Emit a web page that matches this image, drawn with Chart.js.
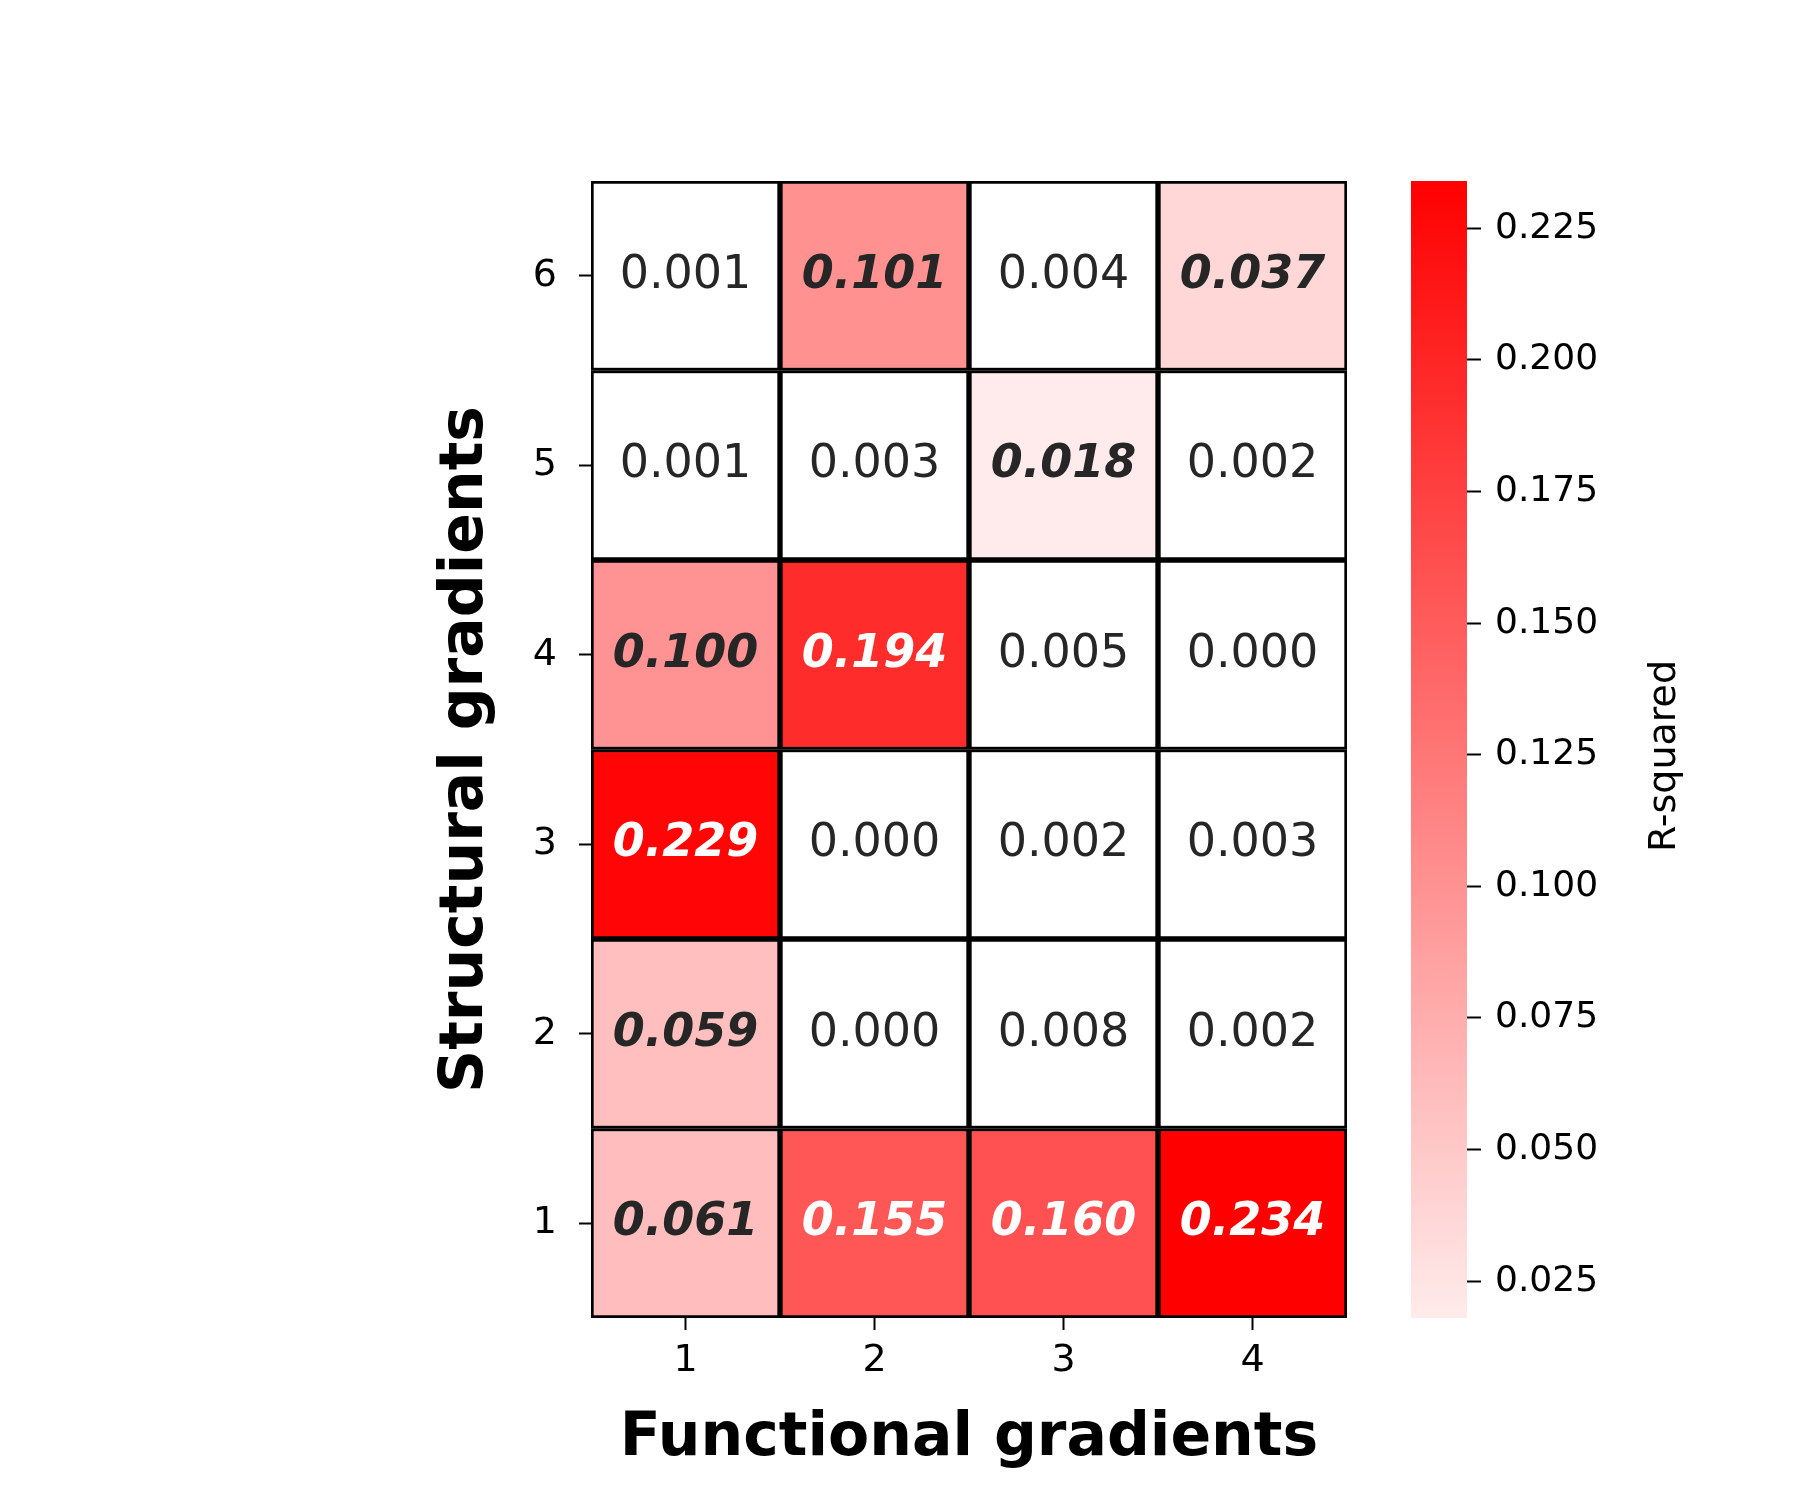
<!DOCTYPE html>
<html>
<head>
<meta charset="utf-8">
<script src="https://cdn.jsdelivr.net/npm/chart.js@4"></script>
<style>
  body { margin: 0; background: #fff; }
  #wrap { position: relative; width: 1800px; height: 1500px; }
  .box { position: absolute; top: 0; height: 1500px; }
</style>
</head>
<body>
<div id="wrap">
  <div class="box" style="left:0;width:1400px"><canvas id="heat"></canvas></div>
  <div class="box" style="left:1400px;width:400px"><canvas id="bar"></canvas></div>
</div>
<script>
// heatmap of R-squared, functional (x) vs structural (y) gradients

const functional = ['1', '2', '3', '4'];
const structural = ['1', '2', '3', '4', '5', '6'];

// one row per structural gradient, from 1 (bottom) to 6 (top)
const rsq = [
    [0.061, 0.155, 0.160, 0.234],
    [0.059, 0.000, 0.008, 0.002],
    [0.229, 0.000, 0.002, 0.003],
    [0.100, 0.194, 0.005, 0.000],
    [0.001, 0.003, 0.018, 0.002],
    [0.001, 0.101, 0.004, 0.037]
];
// significant cells are written bold italic
const signif = [
    [1, 1, 1, 1],
    [1, 0, 0, 0],
    [1, 0, 0, 0],
    [1, 1, 0, 0],
    [0, 0, 1, 0],
    [0, 1, 0, 1]
];
const cbTicks = [0.025, 0.05, 0.075, 0.1, 0.125, 0.15, 0.175, 0.2, 0.225];
const vmin = 0.018, vmax = 0.234;

Chart.defaults.font.family = 'DejaVu Sans';
Chart.defaults.color = '#000';

function cellColor(v) {
    if (v < vmin) return '#fff';
    var t = Math.min(v / vmax, 1);
    var g = Math.round(255 * (1 - t));
    return 'rgb(255,' + g + ',' + g + ')';
}

var datasets = [];
for (var r = 0; r < rsq.length; r++) {
    datasets.push({
        label: structural[r],
        data: functional.map(() => 1),
        backgroundColor: rsq[r].map(cellColor),
        borderColor: '#000',
        borderWidth: 3,
        borderSkipped: false,
        barPercentage: 1,
        categoryPercentage: 1
    });
}

const cellText = {
    id: 'cellText',
    afterDatasetsDraw(chart) {
        const c = chart.ctx;
        c.save();
        c.textAlign = 'center';
        c.textBaseline = 'middle';
        chart.data.datasets.forEach((ds, r) => {
            chart.getDatasetMeta(r).data.forEach((bar, k) => {
                var v = rsq[r][k];
                var b = signif[r][k];
                c.font = (b ? 'italic bold ' : '') + '46px DejaVu Sans';
                c.fillStyle = v > 0.15 ? '#fff' : '#262626';
                var y = (bar.y + bar.base) / 2;
                c.fillText(v.toFixed(3), bar.x, y);
            });
        });
        c.restore();
    }
};

const cbTitle = {
    id: 'cbTitle',
    afterDraw(chart) {
        const c = chart.ctx;
        c.save();
        c.translate(265, 756);
        c.rotate(-Math.PI / 2);
        c.textAlign = 'center';
        c.textBaseline = 'middle';
        c.fillStyle = '#000';
        c.font = '38px DejaVu Sans';
        c.fillText('R-squared', 0, 0);
        c.restore();
    }
};

new Chart(document.getElementById('heat'), {
    type: 'bar',
    data: { labels: functional, datasets: datasets },
    plugins: [cellText],
    options: {
        responsive: true,
        maintainAspectRatio: false,
        animation: false,
        layout: { padding: { top: 181, right: 53 } },
        plugins: { legend: { display: false }, tooltip: { enabled: false } },
        scales: {
            x: {
                stacked: true,
                grid: { offset: false, drawOnChartArea: false, tickLength: 12, tickWidth: 2, color: '#000' },
                border: { display: false },
                ticks: { font: { size: 38 }, padding: 8 },
                title: { display: true, text: 'Functional gradients',
                         font: { size: 60, weight: 'bold' }, padding: { top: 0, bottom: 25 } },
                afterFit: s => { s.height = 182; }
            },
            y: {
                stacked: true,
                min: 0, max: 6,
                grid: { drawOnChartArea: false, tickLength: 12, tickWidth: 2, color: '#000' },
                border: { display: false },
                afterBuildTicks: s => { s.ticks = structural.map((l, i) => ({ value: i + 0.5 })); },
                ticks: { font: { size: 38 }, padding: 22, callback: v => String(v + 0.5) },
                title: { display: true, text: 'Structural gradients',
                         font: { size: 60, weight: 'bold' }, padding: { top: 430, bottom: 0 } },
                afterFit: s => { s.width = 591; }
            }
        }
    }
});

new Chart(document.getElementById('bar'), {
    type: 'bar',
    data: {
        labels: [''],
        datasets: [{
            data: [[vmin, vmax]],
            barPercentage: 1,
            categoryPercentage: 1,
            backgroundColor: ctx => {
                const ca = ctx.chart.chartArea;
                if (!ca) return '#f00';
                const g = ctx.chart.ctx.createLinearGradient(0, ca.bottom, 0, ca.top);
                g.addColorStop(0, cellColor(vmin));
                g.addColorStop(1, cellColor(vmax));
                return g;
            }
        }]
    },
    plugins: [cbTitle],
    options: {
        responsive: true,
        maintainAspectRatio: false,
        animation: false,
        layout: { padding: { top: 181, bottom: 182, left: 11 } },
        plugins: { legend: { display: false }, tooltip: { enabled: false } },
        scales: {
            x: { display: false },
            y: {
                position: 'right',
                min: vmin, max: vmax,
                grid: { drawOnChartArea: false, tickLength: 14, tickWidth: 2, color: '#000' },
                border: { display: false },
                afterBuildTicks: s => { s.ticks = cbTicks.map(v => ({ value: v })); },
                ticks: { font: { size: 36 }, padding: 14, callback: v => v.toFixed(3) },
                afterFit: s => { s.width = 333; }
            }
        }
    }
});
</script>
</body>
</html>
